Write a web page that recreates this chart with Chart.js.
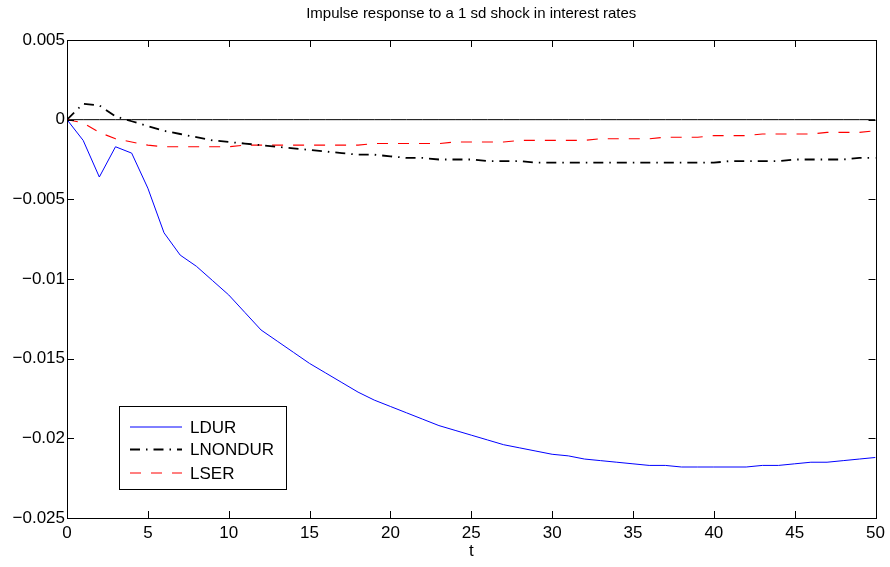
<!DOCTYPE html>
<html>
<head>
<meta charset="utf-8">
<title>Impulse response</title>
<script src="https://cdn.jsdelivr.net/npm/chart.js@4.4.1/dist/chart.umd.min.js"></script>
<style>
  html, body { margin: 0; padding: 0; background: #fff; }
  #wrap { width: 890px; height: 567px; }
</style>
</head>
<body>
<div id="wrap"><canvas id="irf" width="890" height="567"></canvas></div>
<script>
// horizon 0..50
const t = [];
for (let i = 0; i <= 50; i++) t.push(i);

const ldur = [
  0, -0.0013, -0.0036, -0.0017, -0.0021, -0.0043, -0.0071, -0.0085, -0.0092, -0.0101,
  -0.0110, -0.0121, -0.0132, -0.0139, -0.0146, -0.0153, -0.0159, -0.0165, -0.0171, -0.0176,
  -0.0180, -0.0184, -0.0188, -0.0192, -0.0195, -0.0198, -0.0201, -0.0204, -0.0206, -0.0208,
  -0.0210, -0.0211, -0.0213, -0.0214, -0.0215, -0.0216, -0.0217, -0.0217, -0.0218, -0.0218,
  -0.0218, -0.0218, -0.0218, -0.0217, -0.0217, -0.0216, -0.0215, -0.0215, -0.0214, -0.0213,
  -0.0212
];
const lnondur = [
  0, 0.0010, 0.0009, 0.0002, -0.0001, -0.0004, -0.0007, -0.0009, -0.0011, -0.0013,
  -0.0014, -0.0015, -0.0016, -0.0017, -0.0018, -0.0019, -0.0020, -0.0021, -0.0022, -0.0022,
  -0.0023, -0.0024, -0.0024, -0.0025, -0.0025, -0.0025, -0.0026, -0.0026, -0.0026, -0.0027,
  -0.0027, -0.0027, -0.0027, -0.0027, -0.0027, -0.0027, -0.0027, -0.0027, -0.0027, -0.0027,
  -0.0027, -0.0026, -0.0026, -0.0026, -0.0026, -0.0025, -0.0025, -0.0025, -0.0025, -0.0024,
  -0.0024
];
const lser = [
  0, -0.0002, -0.0008, -0.0012, -0.0014, -0.0016, -0.0017, -0.0017, -0.0017, -0.0017,
  -0.0017, -0.0016, -0.0016, -0.0016, -0.0016, -0.0016, -0.0016, -0.0016, -0.0016, -0.0015,
  -0.0015, -0.0015, -0.0015, -0.0015, -0.0014, -0.0014, -0.0014, -0.0014, -0.0013, -0.0013,
  -0.0013, -0.0013, -0.0013, -0.0012, -0.0012, -0.0012, -0.0012, -0.0011, -0.0011, -0.0011,
  -0.0010, -0.0010, -0.0010, -0.0009, -0.0009, -0.0009, -0.0009, -0.0008, -0.0008, -0.0008,
  -0.0007
];
const zero = t.map(() => 0);

const seriesNames = ['LDUR', 'LNONDUR', 'LSER'];
const xTicks = [0, 5, 10, 15, 20, 25, 30, 35, 40, 45, 50];
const yTicks = [0.005, 0, -0.005, -0.01, -0.015, -0.02, -0.025];
const titleText = 'Impulse response to a 1 sd shock in interest rates';

const pts = arr => arr.map((v, i) => ({ x: t[i], y: v }));
const FONT = 'Liberation Sans, Arial, Helvetica, sans-serif';

const fmt = v => {
  const s = String(Number(v.toFixed(3)));
  return s.replace('-', '\u2212');
};

// frame, inward ticks on all four sides, title and boxed legend
const matlabAxes = {
  id: 'matlabAxes',
  afterDraw(chart) {
    const { ctx, chartArea: a, scales } = chart;
    const len = 7;
    ctx.save();
    ctx.strokeStyle = '#000';
    ctx.lineWidth = 1;
    ctx.beginPath();
    xTicks.forEach(v => {
      const px = Math.round(scales.x.getPixelForValue(v)) + 0.5;
      ctx.moveTo(px, a.bottom); ctx.lineTo(px, a.bottom - len);
      ctx.moveTo(px, a.top); ctx.lineTo(px, a.top + len);
    });
    yTicks.forEach(v => {
      const py = Math.round(scales.y.getPixelForValue(v)) + 0.5;
      ctx.moveTo(a.left, py); ctx.lineTo(a.left + len, py);
      ctx.moveTo(a.right, py); ctx.lineTo(a.right - len, py);
    });
    ctx.stroke();
    ctx.strokeRect(Math.round(a.left) + 0.5, Math.round(a.top) + 0.5,
      Math.round(a.right - a.left), Math.round(a.bottom - a.top));

    ctx.fillStyle = '#000';
    ctx.font = '15px ' + FONT;
    ctx.textAlign = 'center';
    ctx.textBaseline = 'middle';
    ctx.fillText(titleText, (a.left + a.right) / 2, 14);

    // legend box
    const bx = 119.5, by = 406.5, bw = 167, bh = 83;
    ctx.fillStyle = '#fff';
    ctx.fillRect(bx, by, bw, bh);
    ctx.strokeRect(bx, by, bw, bh);
    const rows = [427, 449.5, 473];
    ctx.font = '17px ' + FONT;
    ctx.textAlign = 'left';
    chart.data.datasets.slice(0, 3).forEach((ds, i) => {
      ctx.strokeStyle = ds.borderColor;
      ctx.lineWidth = ds.borderWidth;
      ctx.setLineDash(ds.borderDash || []);
      ctx.beginPath();
      ctx.moveTo(130, rows[i]); ctx.lineTo(182, rows[i]);
      ctx.stroke();
      ctx.setLineDash([]);
      ctx.fillStyle = '#000';
      ctx.fillText(ds.label, 190, rows[i] + 1);
    });
    ctx.restore();
  }
};

new Chart(document.getElementById('irf'), {
  type: 'line',
  data: {
    datasets: [
      { label: seriesNames[0], data: pts(ldur), borderColor: '#0000ff', borderWidth: 1 },
      { label: seriesNames[1], data: pts(lnondur), borderColor: '#000000', borderWidth: 1.8, borderDash: [10, 6, 1.5, 6] },
      { label: seriesNames[2], data: pts(lser), borderColor: '#ff0000', borderWidth: 1.1, borderDash: [11, 10] },
      { label: 'zero', data: pts(zero), borderColor: '#000000', borderWidth: 1 }
    ]
  },
  options: {
    responsive: false,
    animation: false,
    devicePixelRatio: 1,
    layout: { padding: { top: 40, right: 14, left: 0, bottom: 0 } },
    elements: { point: { radius: 0 }, line: { tension: 0, fill: false } },
    plugins: { legend: { display: false }, tooltip: { enabled: false }, title: { display: false } },
    scales: {
      x: {
        type: 'linear', min: 0, max: 50,
        grid: { display: false, drawTicks: false },
        border: { display: false },
        afterBuildTicks: s => { s.ticks = xTicks.map(v => ({ value: v })); },
        afterFit: s => { s.height = 49; },
        ticks: { color: '#000', padding: 5, maxRotation: 0, font: { family: FONT, size: 17 } },
        title: { display: true, text: 't', color: '#000', padding: { top: 0, bottom: 5 }, font: { family: FONT, size: 17 } }
      },
      y: {
        type: 'linear', min: -0.025, max: 0.005,
        grid: { display: false, drawTicks: false },
        border: { display: false },
        afterBuildTicks: s => { s.ticks = yTicks.map(v => ({ value: v })); },
        afterFit: s => { s.width = 67; },
        ticks: { color: '#000', padding: 2, font: { family: FONT, size: 17 }, callback: v => fmt(v) }
      }
    }
  },
  plugins: [matlabAxes]
});
</script>
</body>
</html>
